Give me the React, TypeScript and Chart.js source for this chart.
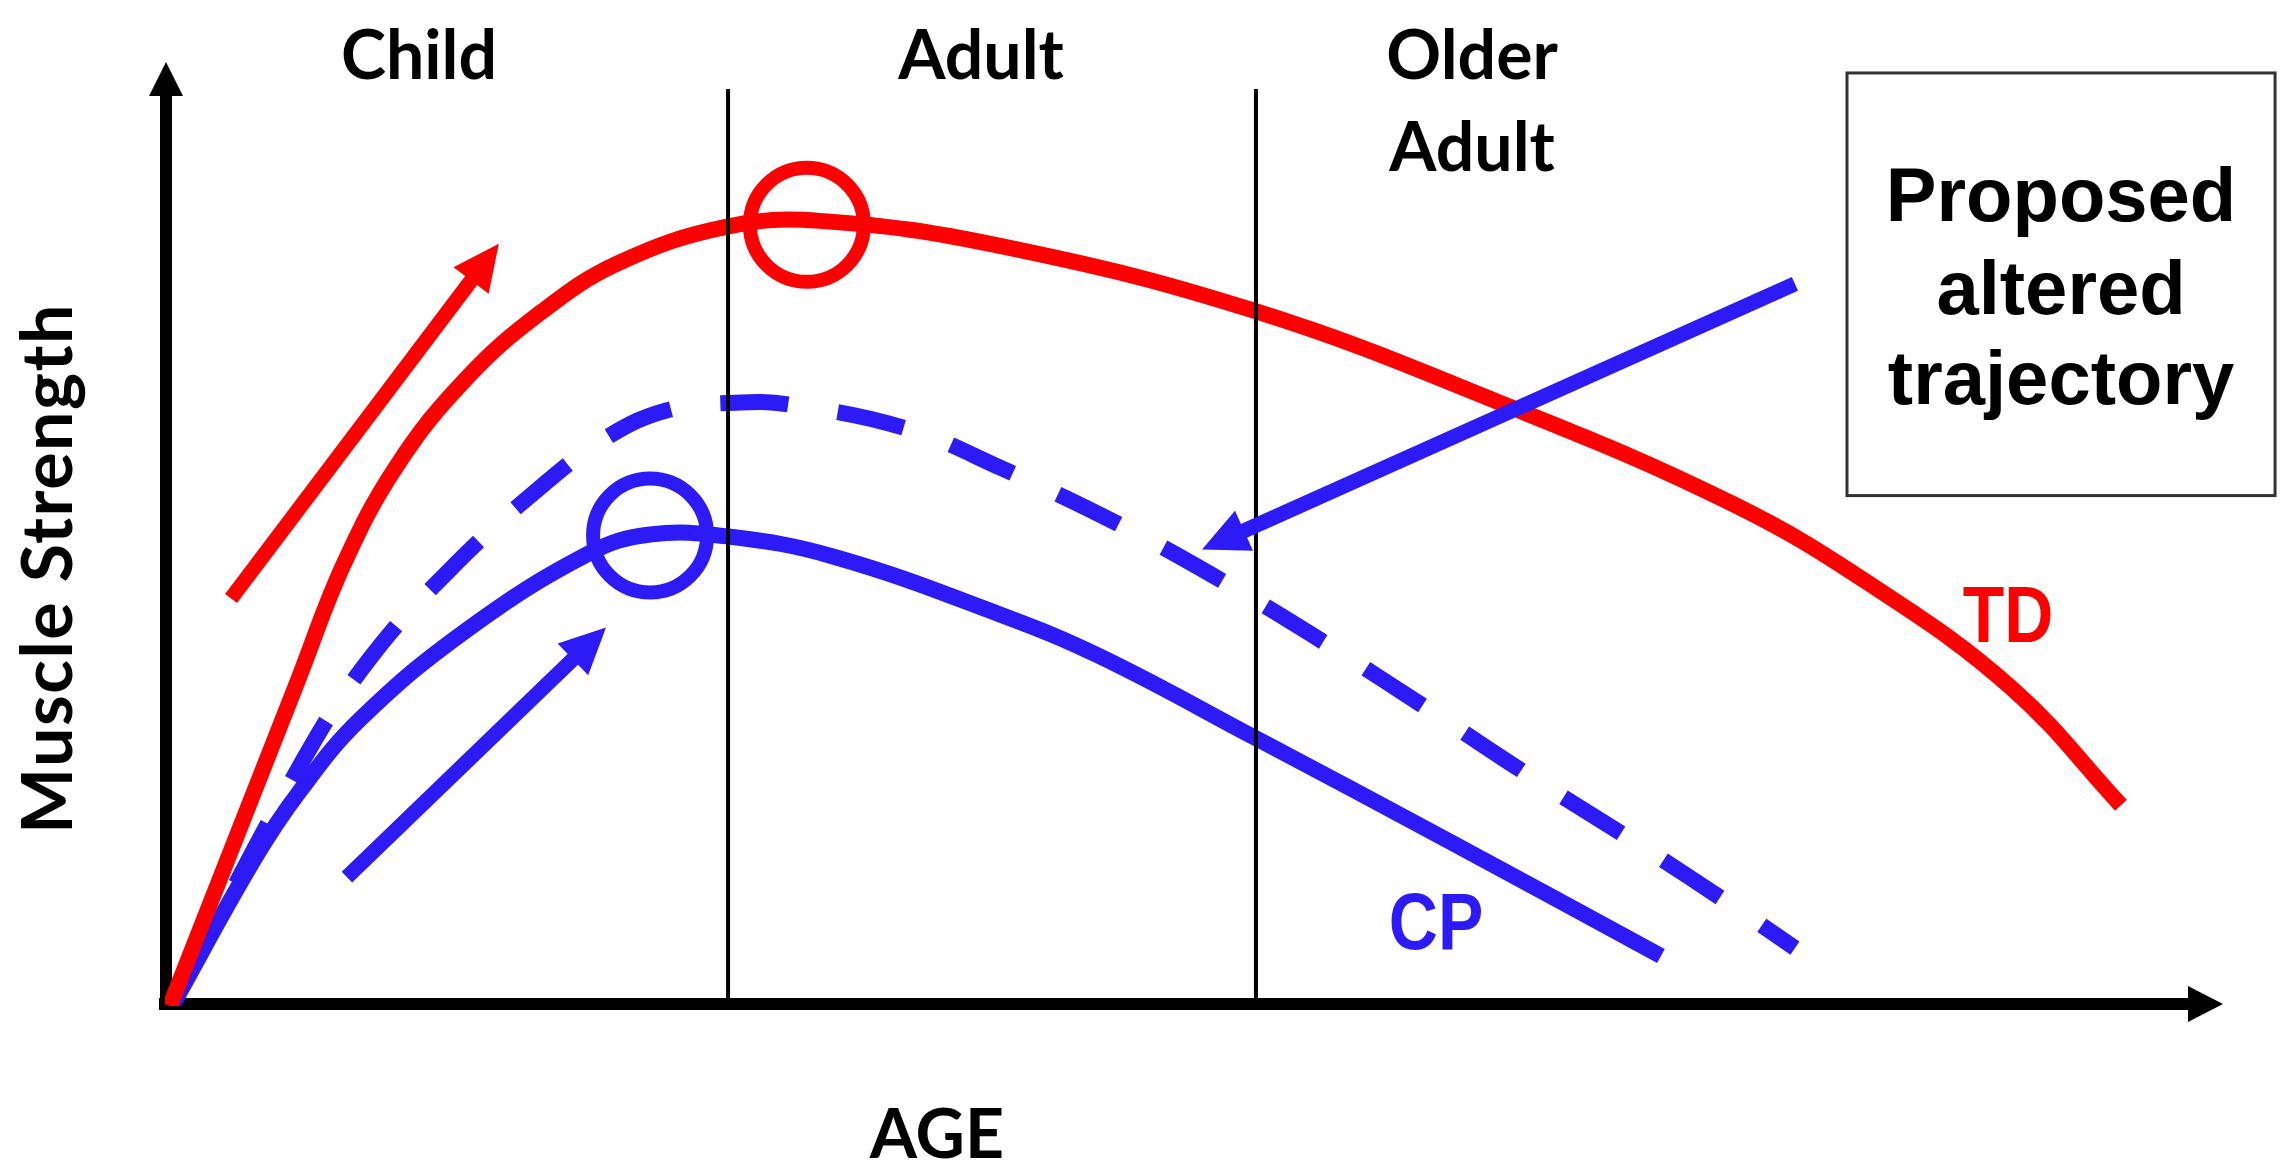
import React, { useEffect, useRef } from 'react';
import { Chart, registerables } from 'chart.js';

Chart.register(...registerables);

// ---- Data (AGE on x: 0..100, Muscle Strength on y: 0..100, schematic units) ----
const TD_AGE = [0.24, 6.46, 8.7, 11.27, 14.63, 18.37, 22.06, 27.26, 31.83, 40.57, 52.92, 65.21, 76.14, 82.94, 89.75, 95.04];
const TD_STRENGTH = [0, 34.83, 47.33, 57.8, 67.09, 74.36, 79.49, 83.33, 83.97, 81.3, 74.36, 64.21, 53.74, 44.98, 33.97, 21.47];

const CP_AGE = [0.34, 4.28, 6.51, 9.48, 14.63, 20.6, 23.57, 27.36, 32.46, 40.57, 45.43, 52.92, 62.49, 72.69];
const CP_STRENGTH = [0, 15.49, 22.86, 30.66, 40.17, 48.4, 50.43, 50.21, 48.08, 41.88, 37.39, 28.74, 17.52, 5.34];

const ALT_AGE = [0.34, 6.71, 9.96, 13.9, 18.22, 21.53, 24.49, 27.7, 30.37, 36.05, 40.57, 46.65, 51.75, 56.71, 61.61, 66.57, 71.67, 76.48, 79.2];
const ALT_STRENGTH = [0, 26.28, 37.18, 46.79, 55.45, 60.9, 63.78, 64.53, 64.32, 61.75, 57.59, 51.18, 44.98, 38.35, 31.41, 24.25, 17.2, 10.26, 6.2];

const PEAK_TD = { age: 31.19, strength: 83.55 };
const PEAK_CP = { age: 23.57, strength: 50.32 };

const STAGE_BOUNDARIES = [27.36, 53.01];
const STAGE_TOP = 98.08;

const STAGE_LABELS = [
  { lines: ['Child'], age: 12.34 },
  { lines: ['Adult'], age: 39.65 },
  { lines: ['Older', 'Adult'], age: 63.51 },
];

// arrows: [fromAge, fromStrength, toAge, toStrength]
const RED_ARROW = [3.21, 43.59, 16.22, 81.52];
const BLUE_ARROW_SHORT = [8.84, 13.78, 21.43, 40.49];
const BLUE_ARROW_LONG = [79.2, 77.24, 50.39, 48.82];

const BOX_LINES = ['Proposed', 'altered', 'trajectory'];

const RED = '#ff0000';
const BLUE = '#2c1bf6';

const toPts = (xs: number[], ys: number[]) => xs.map((x, i) => ({ x, y: ys[i] }));

const LABEL_FONT = 'bold 68px Lato, "Open Sans", sans-serif';
const YTITLE_FONT = 'bold 70px Lato, "Open Sans", sans-serif';
const CURVE_FONT = 'bold 79px "Liberation Sans", Arial, sans-serif';
const BOX_FONT = 'bold 76px "Liberation Sans", Arial, sans-serif';

const decor = {
  id: 'decor',
  beforeDatasetsDraw(chart: any) {
    const { ctx } = chart;
    const sx = chart.scales.x;
    const sy = chart.scales.y;
    const ox = sx.getPixelForValue(0);
    const oy = sy.getPixelForValue(0) - 2;
    const xt = sx.getPixelForValue(100);
    const yt = sy.getPixelForValue(100.96);
    ctx.save();
    ctx.strokeStyle = '#000';
    ctx.fillStyle = '#000';
    ctx.lineWidth = 12;
    ctx.lineCap = 'butt';
    ctx.beginPath();
    ctx.moveTo(ox - 6, oy);
    ctx.lineTo(xt - 32, oy);
    ctx.stroke();
    ctx.beginPath();
    ctx.moveTo(ox + 1, oy + 6);
    ctx.lineTo(ox + 1, yt + 31);
    ctx.stroke();
    ctx.beginPath();
    ctx.moveTo(xt, oy);
    ctx.lineTo(xt - 35, oy - 18);
    ctx.lineTo(xt - 35, oy + 18);
    ctx.closePath();
    ctx.fill();
    ctx.beginPath();
    ctx.moveTo(ox + 1, yt);
    ctx.lineTo(ox + 1 - 17, yt + 34);
    ctx.lineTo(ox + 1 + 17, yt + 34);
    ctx.closePath();
    ctx.fill();
    ctx.restore();
  },
  afterDatasetsDraw(chart: any) {
    const { ctx } = chart;
    const sx = chart.scales.x;
    const sy = chart.scales.y;
    const px = (v: number) => sx.getPixelForValue(v);
    const py = (v: number) => sy.getPixelForValue(v);

    const arrow = (a: number[], color: string) => {
      const x0 = px(a[0]), y0 = py(a[1]), x1 = px(a[2]), y1 = py(a[3]);
      const dx = x1 - x0, dy = y1 - y0;
      const len = Math.hypot(dx, dy);
      const ux = dx / len, uy = dy / len;
      const L = 46, W = 22;
      const bx = x1 - ux * L, by = y1 - uy * L;
      ctx.save();
      ctx.strokeStyle = color;
      ctx.fillStyle = color;
      ctx.lineWidth = 15;
      ctx.lineCap = 'butt';
      ctx.beginPath();
      ctx.moveTo(x0, y0);
      ctx.lineTo(bx + ux * 2, by + uy * 2);
      ctx.stroke();
      ctx.beginPath();
      ctx.moveTo(x1, y1);
      ctx.lineTo(bx - uy * W, by + ux * W);
      ctx.lineTo(bx + uy * W, by - ux * W);
      ctx.closePath();
      ctx.fill();
      ctx.restore();
    };
    arrow(RED_ARROW, RED);
    arrow(BLUE_ARROW_SHORT, BLUE);
    arrow(BLUE_ARROW_LONG, BLUE);

    ctx.save();
    ctx.textAlign = 'center';
    ctx.textBaseline = 'alphabetic';
    ctx.fillStyle = '#000';
    ctx.font = LABEL_FONT;
    STAGE_LABELS.forEach((s) => {
      s.lines.forEach((t, i) => {
        ctx.fillText(t, px(s.age), py(99.15 - i * 9.83));
      });
    });
    ctx.fillText('AGE', px(37.51), py(-16.24));
    ctx.save();
    ctx.font = YTITLE_FONT;
    try { (ctx as any).letterSpacing = '1.5px'; } catch (e) {}
    ctx.translate(px(-4.52), py(46.79));
    ctx.rotate(-Math.PI / 2);
    ctx.fillText('Muscle Strength', 0, 0);
    ctx.restore();

    ctx.font = CURVE_FONT;
    const narrow = (t: string, x: number, y: number, color: string) => {
      ctx.save();
      ctx.fillStyle = color;
      ctx.translate(x, y);
      ctx.scale(0.86, 1);
      ctx.fillText(t, 0, 0);
      ctx.restore();
    };
    narrow('TD', px(89.55), py(38.89), RED);
    narrow('CP', px(61.76), py(6.09), BLUE);

    // box
    const bx0 = px(81.73), bx1 = px(102.53), by0 = py(99.79), by1 = py(54.59);
    ctx.strokeStyle = '#333';
    ctx.lineWidth = 3;
    ctx.strokeRect(bx0, by0, bx1 - bx0, by1 - by0);
    ctx.fillStyle = '#000';
    ctx.font = BOX_FONT;
    const bases = [83.97, 74.04, 64.42];
    BOX_LINES.forEach((t, i) => ctx.fillText(t, px(92.13), py(bases[i])));
    ctx.restore();
  },
};

export default function App() {
  const ref = useRef<HTMLCanvasElement | null>(null);
  useEffect(() => {
    if (!ref.current) return;
    const curve = { pointRadius: 0, tension: 0.4, borderCapStyle: 'butt', borderWidth: 16 };
    const chart = new Chart(ref.current, {
      type: 'line',
      data: {
        datasets: [
          ...STAGE_BOUNDARIES.map((a) => ({
            data: [{ x: a, y: 0 }, { x: a, y: STAGE_TOP }],
            borderColor: '#000',
            borderWidth: 4,
            pointRadius: 0,
            tension: 0,
          })),
          {
            type: 'scatter' as const,
            data: [{ x: PEAK_TD.age, y: PEAK_TD.strength }],
            pointRadius: 57,
            pointBorderWidth: 14,
            pointBorderColor: RED,
            pointBackgroundColor: 'rgba(0,0,0,0)',
          },
          {
            type: 'scatter' as const,
            data: [{ x: PEAK_CP.age, y: PEAK_CP.strength }],
            pointRadius: 57,
            pointBorderWidth: 14,
            pointBorderColor: BLUE,
            pointBackgroundColor: 'rgba(0,0,0,0)',
          },
          {
            label: 'TD',
            data: toPts(TD_AGE, TD_STRENGTH),
            borderColor: RED,
            ...curve,
          },
          {
            label: 'CP',
            data: toPts(CP_AGE, CP_STRENGTH),
            borderColor: BLUE,
            ...curve,
          },
          {
            label: 'Proposed altered trajectory',
            data: toPts(ALT_AGE, ALT_STRENGTH),
            borderColor: BLUE,
            borderDash: [68, 50],
            borderDashOffset: -20,
            ...curve,
          },
        ] as any,
      },
      options: {
        animation: false,
        responsive: false,
        devicePixelRatio: 1,
        layout: { padding: { left: 165, right: 73, top: 70, bottom: 170 } },
        plugins: { legend: { display: false }, tooltip: { enabled: false } },
        scales: {
          x: { type: 'linear', min: 0, max: 100, display: false },
          y: { type: 'linear', min: 0, max: 100, display: false },
        },
      } as any,
      plugins: [decor],
    });
    return () => chart.destroy();
  }, []);
  return (
    <div style={{ position: 'absolute', left: 0, top: 0, width: 2296, height: 1176, background: '#fff' }}>
      <canvas ref={ref} width={2296} height={1176} style={{ display: 'block' }} />
    </div>
  );
}
